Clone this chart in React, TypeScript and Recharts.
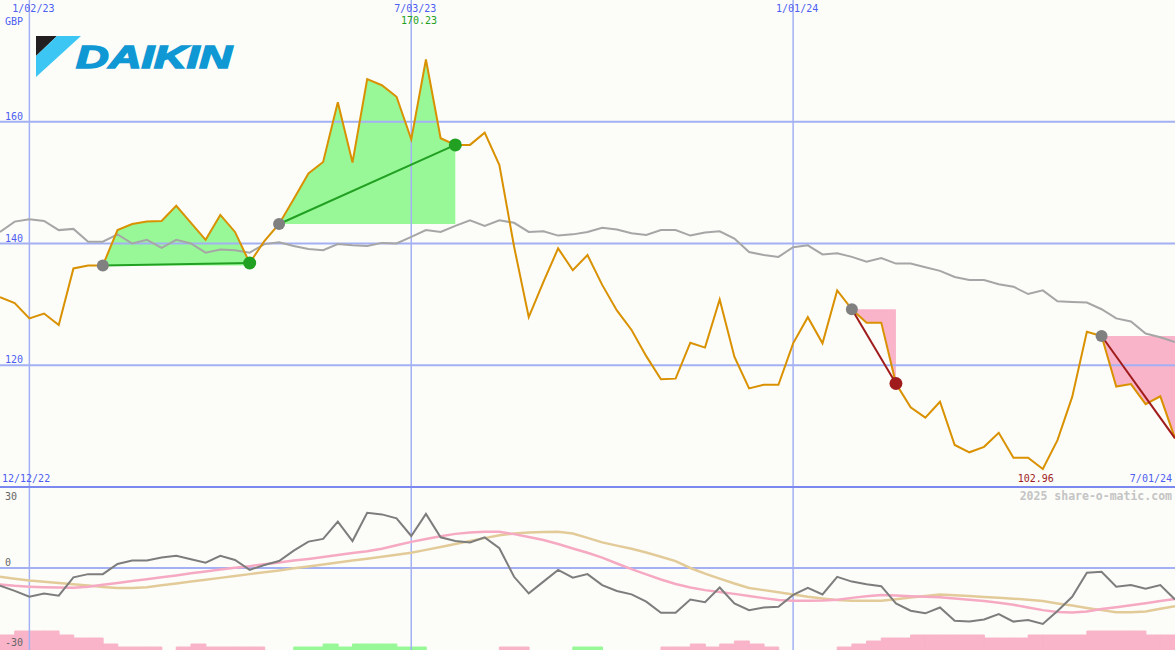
import React from 'react'
import {
  ComposedChart,
  BarChart,
  Bar,
  Cell,
  Line,
  Area,
  XAxis,
  YAxis,
  ReferenceLine,
} from 'recharts'

// weekly closes, GBP (week 0 = 19 Dec 2022)
const priceGbp = [
  131.2, 130.2, 127.7, 128.5, 126.6, 135.9, 136.4, 136.4, 142.2, 143.2,
  143.6, 143.7, 146.2, 143.4, 140.6, 144.7, 141.9, 136.8, 140.4, 143.2,
  147.3, 151.5, 153.4, 163.2, 153.3, 167.0, 166.0, 164.1, 157.1, 170.23,
  157.3, 156.2, 156.2, 158.2, 152.9, 139.5, 127.9, 133.7, 139.2, 135.6,
  138.1, 133.2, 129.0, 125.8, 121.5, 117.7, 117.8, 123.7, 122.9, 130.8,
  121.4, 116.2, 116.8, 116.8, 123.6, 127.9, 123.6, 132.3, 129.2, 127.0,
  127.0, 117.0, 113.1, 111.4, 114.0, 106.9, 105.7, 106.6, 108.9, 104.8,
  104.8, 102.96, 107.7, 114.8, 125.5, 124.8, 116.5, 116.9, 113.6, 114.9, 108.0,
]

const movingAverage = [
  141.9, 143.6, 144.0, 143.7, 142.2, 142.4, 140.3, 140.3, 141.5, 140.0,
  140.6, 139.3, 140.6, 140.0, 138.5, 139.0, 138.9, 138.5, 139.9, 140.2,
  139.6, 139.1, 138.9, 139.9, 139.7, 139.6, 140.1, 140.0, 141.1, 142.2,
  141.9, 142.9, 143.8, 142.9, 143.8, 143.4, 141.9, 142.0, 141.3, 141.5,
  141.9, 142.6, 142.3, 141.7, 141.4, 142.2, 142.2, 141.3, 141.8, 142.0,
  140.8, 138.6, 138.1, 137.8, 139.4, 139.7, 138.2, 138.4, 137.8, 137.0,
  137.6, 136.7, 136.7, 136.1, 135.5, 134.5, 134.0, 134.0, 133.3, 132.9,
  131.7, 132.3, 130.5, 130.4, 130.3, 129.2, 127.7, 127.2, 125.2, 124.6, 123.8,
]

const momentum = [
  -6.6, -8.6, -10.8, -9.6, -10.4, -3.5, -2.3, -2.3, 1.5, 2.8,
  2.8, 3.9, 4.6, 3.3, 2.0, 4.6, 3.0, -0.7, 1.1, 2.6,
  6.5, 9.9, 10.9, 17.4, 10.1, 20.7, 20.1, 18.6, 12.0, 20.3,
  11.5, 10.1, 9.6, 11.5, 7.4, -3.3, -9.5, -5.1, -0.7, -3.6,
  -2.3, -6.4, -8.6, -9.9, -12.6, -16.8, -16.8, -11.8, -12.8, -7.3,
  -13.3, -15.8, -14.8, -14.5, -10.1, -7.4, -9.9, -3.3, -5.1, -6.1,
  -6.8, -13.3, -16.0, -17.0, -14.8, -19.8, -20.1, -19.3, -17.3, -20.1,
  -19.5, -21.0, -16.1, -10.8, -1.8, -1.4, -7.0, -6.4, -7.8, -6.4, -11.8,
]

const momentumFast = [
  -6.2, -6.7, -7.0, -7.2, -7.3, -7.4, -7.0, -6.3, -5.6, -4.9,
  -4.2, -3.5, -2.8, -2.0, -1.3, -0.55, 0.1, 0.7, 1.4, 2.1,
  2.8, 3.4, 4.1, 4.9, 5.6, 6.3, 7.2, 8.5, 9.8, 10.9,
  11.9, 12.8, 13.3, 13.6, 13.6, 12.7, 11.6, 10.5, 9.0, 7.3,
  5.7, 3.9, 1.7, -0.4, -2.4, -4.3, -6.0, -7.3, -8.3, -9.0,
  -9.7, -10.5, -11.3, -12.0, -12.25, -12.25, -12.2, -11.9, -11.2, -10.6,
  -10.1, -10.3, -10.6, -10.8, -11.0, -11.4, -11.9, -12.4, -13.0, -13.8,
  -14.8, -15.8, -16.5, -16.7, -16.3, -15.4, -14.7, -14.0, -13.2, -12.4, -11.6,
]

const momentumSlow = [
  -3.25, -4.0, -4.7, -5.2, -5.6, -6.1, -6.6, -7.1, -7.5, -7.5,
  -7.2, -6.5, -5.8, -5.1, -4.4, -3.7, -3.0, -2.3, -1.6, -0.9,
  -0.1, 0.6, 1.3, 2.1, 2.8, 3.5, 4.2, 5.0, 5.75, 6.8,
  7.9, 9.0, 10.1, 11.2, 12.3, 12.9, 13.3, 13.5, 13.6, 12.9,
  11.3, 9.6, 8.4, 7.2, 5.8, 4.2, 2.6, 0.0, -2.1, -4.0,
  -5.8, -7.5, -8.3, -9.1, -9.9, -10.8, -11.4, -12.0, -12.25, -12.25,
  -12.25, -11.7, -11.1, -10.5, -9.9, -10.2, -10.5, -10.9, -11.2, -11.5,
  -11.9, -12.4, -13.3, -14.1, -15.0, -15.8, -16.6, -16.6, -16.3, -15.3, -14.3,
]

// one bar per week interval, + green / - pink
const pressure = [
  -15, -19, -19, -19, -15, -12, -12, -6, -3, -3,
  -3, 0, -3, -6, -3, -3, -3, -3, 0, 0,
  3, 3, 6, 3, 6, 6, 6, 3, 3, 0,
  0, 0, 0, 0, -3, -3, 0, 0, 0, 3,
  3, 0, 0, 0, 0, -3, -3, -6, -3, -6,
  -9, -6, -3, 0, 0, 0, 0, -3, -6, -9,
  -12, -12, -15, -15, -15, -15, -15, -12, -12, -12,
  -15, -15, -15, -15, -19, -19, -19, -19, -15, -15,
]

const gridWeeks = [2, 28, 54]
const gridDates = ['1/02/23', '7/03/23', '1/01/24']
const rangeDates = ['12/12/22', '7/01/24']
const priceTicks = [120, 140, 160]
const momentumTicks = [-30, 0, 30]

const tradeEntry = [7, 19, 58, 75]
const tradeExit = [17, 31, 61, 80]
const tradeWon = [true, true, false, false]
const tradeClosed = [true, true, true, false]

const W = 1175
const TOP_H = 487
const BOTTOM_H = 162
const MONO = '"DejaVu Sans Mono", monospace'
const BLUE_TEXT = '#4d5ef0'
const GRID = '#a3b0f4'
const GREEN_FILL = '#98f898'
const GREEN = '#22a022'
const PINK_FILL = '#f9b4c9'
const RED = '#a01c1c'

const hiVal = Math.max(...priceGbp)
const loVal = Math.min(...priceGbp)

const rows = priceGbp.map((price, w) => {
  const row: Record<string, any> = {
    w,
    price,
    ma: movingAverage[w],
    mom: momentum[w],
    fast: momentumFast[w],
    slow: momentumSlow[w],
    entryDot: null,
    winDot: null,
    lossDot: null,
  }
  tradeEntry.forEach((start, k) => {
    const end = tradeExit[k]
    const base = priceGbp[start]
    row[`zone${k}`] =
      w >= start && w <= end ? [Math.min(base, price), Math.max(base, price)] : null
    row[`trade${k}`] = w === start || w === end ? price : null
    if (w === start) row.entryDot = price
    if (w === end && tradeClosed[k]) row[tradeWon[k] ? 'winDot' : 'lossDot'] = price
  })
  return row
})

const barRows = pressure.map((v, i) => ({ i, h: Math.abs(v), up: v > 0 }))

const PriceTick = ({ y, payload }: any) => (
  <text x={5} y={y - 2} fill={BLUE_TEXT} fontSize={10} fontFamily={MONO}>
    {payload.value}
  </text>
)

const DateTick = ({ x, payload }: any) => (
  <text x={x + 4} y={12} textAnchor="middle" fill={BLUE_TEXT} fontSize={10} fontFamily={MONO}>
    {gridDates[gridWeeks.indexOf(payload.value)]}
  </text>
)

const MomentumTick = ({ y, payload }: any) => (
  <text
    x={5}
    y={payload.value === 30 ? y + 12 : y - 2}
    fill="#666"
    fontSize={10}
    fontFamily={MONO}
  >
    {payload.value}
  </text>
)

const extremeLabel = (props: any) => {
  const { value } = props
  const x = props.x ?? props.viewBox?.x
  if (value === hiVal) {
    return (
      <text x={x - 7} y={24} textAnchor="middle" fill={GREEN} fontSize={10} fontFamily={MONO}>
        {value.toFixed(2)}
      </text>
    )
  }
  if (value === loVal) {
    return (
      <text x={x - 7} y={482} textAnchor="middle" fill={RED} fontSize={10} fontFamily={MONO}>
        {value.toFixed(2)}
      </text>
    )
  }
  return <g />
}

function DaikinLogo() {
  return (
    <svg width={240} height={80} style={{ position: 'absolute', left: 0, top: 0 }}>
      <polygon points="36,36 57,36 36,56" fill="#231f20" />
      <polygon points="57,36 81,36 36,77 36,56" fill="#3cc6f4" />
      <text
        x={76}
        y={68}
        fontFamily="'Liberation Sans', Arial, sans-serif"
        fontWeight="bold"
        fontStyle="italic"
        fontSize={32}
        fill="#0f98d3"
        stroke="#0f98d3"
        strokeWidth={1.6}
        textLength={156}
        lengthAdjust="spacingAndGlyphs"
      >
        DAIKIN
      </text>
    </svg>
  )
}

function PriceChart() {
  return (
    <ComposedChart width={W} height={TOP_H} data={rows} margin={{ top: 0, right: 0, bottom: 0, left: 0 }}>
      <XAxis
        dataKey="w"
        type="number"
        domain={[0, 80]}
        ticks={gridWeeks}
        interval={0}
        orientation="top"
        mirror
        height={30}
        axisLine={false}
        tickLine={false}
        tick={DateTick}
      />
      <YAxis
        type="number"
        domain={[100, 180]}
        ticks={priceTicks}
        interval={0}
        mirror
        width={40}
        axisLine={false}
        tickLine={false}
        tick={PriceTick}
      />
      {priceTicks.map((v) => (
        <ReferenceLine key={v} y={v} stroke={GRID} strokeWidth={2} />
      ))}
      {gridWeeks.map((w) => (
        <ReferenceLine key={w} x={w} stroke={GRID} strokeWidth={1.5} />
      ))}
      {tradeEntry.map((_, k) => (
        <Area
          key={k}
          type="linear"
          dataKey={`zone${k}`}
          stroke="none"
          fill={tradeWon[k] ? GREEN_FILL : PINK_FILL}
          fillOpacity={1}
          dot={false}
          activeDot={false}
          isAnimationActive={false}
        />
      ))}
      <Line type="linear" dataKey="ma" stroke="#a6a6a6" strokeWidth={2} dot={false} activeDot={false} isAnimationActive={false} />
      <Line dataKey="entryDot" stroke="none" dot={{ r: 6, fill: '#808080', stroke: 'none' }} activeDot={false} isAnimationActive={false} />
      <Line dataKey="winDot" stroke="none" dot={{ r: 6.5, fill: GREEN, stroke: 'none' }} activeDot={false} isAnimationActive={false} />
      <Line dataKey="lossDot" stroke="none" dot={{ r: 6.5, fill: RED, stroke: 'none' }} activeDot={false} isAnimationActive={false} />
      <Line
        type="linear"
        dataKey="price"
        stroke="#d99100"
        strokeWidth={2}
        dot={false}
        activeDot={false}
        label={extremeLabel}
        isAnimationActive={false}
      />
      {tradeEntry.map((_, k) => (
        <Line
          key={k}
          type="linear"
          dataKey={`trade${k}`}
          stroke={tradeWon[k] ? GREEN : RED}
          strokeWidth={2}
          connectNulls
          dot={false}
          activeDot={false}
          isAnimationActive={false}
        />
      ))}
    </ComposedChart>
  )
}

function MomentumChart() {
  return (
    <ComposedChart width={W} height={BOTTOM_H} data={rows} margin={{ top: 0, right: 0, bottom: 0, left: 0 }}>
      <XAxis dataKey="w" type="number" domain={[0, 80]} hide />
      <YAxis
        type="number"
        domain={[-30.75, 30]}
        ticks={momentumTicks}
        interval={0}
        mirror
        width={40}
        axisLine={false}
        tickLine={false}
        tick={MomentumTick}
      />
      <ReferenceLine y={0} stroke={GRID} strokeWidth={2} />
      {gridWeeks.map((w) => (
        <ReferenceLine key={w} x={w} stroke={GRID} strokeWidth={1.5} />
      ))}
      <Line type="linear" dataKey="slow" stroke="#e3cb99" strokeWidth={2.5} dot={false} activeDot={false} isAnimationActive={false} />
      <Line type="linear" dataKey="fast" stroke="#f6a9c3" strokeWidth={2.5} dot={false} activeDot={false} isAnimationActive={false} />
      <Line type="linear" dataKey="mom" stroke="#7d7d7d" strokeWidth={2} dot={false} activeDot={false} isAnimationActive={false} />
    </ComposedChart>
  )
}

function PressureBars() {
  return (
    <BarChart
      width={W}
      height={BOTTOM_H}
      data={barRows}
      margin={{ top: 0, right: 0, bottom: 0, left: 0 }}
      barCategoryGap={0}
    >
      <XAxis dataKey="i" hide />
      <YAxis domain={[0, BOTTOM_H]} hide />
      <Bar dataKey="h" isAnimationActive={false}>
        {barRows.map((b) => (
          <Cell
            key={b.i}
            fill={b.up ? GREEN_FILL : PINK_FILL}
            stroke={b.up ? GREEN_FILL : PINK_FILL}
            strokeWidth={1}
          />
        ))}
      </Bar>
    </BarChart>
  )
}

export default function App() {
  return (
    <div
      style={{
        position: 'absolute',
        left: 0,
        top: 0,
        width: W,
        height: 650,
        background: '#fcfdf9',
        overflow: 'hidden',
      }}
    >
      <div style={{ position: 'absolute', left: 0, top: 0 }}>
        <PriceChart />
      </div>
      <div style={{ position: 'absolute', left: 0, top: 488 }}>
        <PressureBars />
      </div>
      <div style={{ position: 'absolute', left: 0, top: 488 }}>
        <MomentumChart />
      </div>
      <DaikinLogo />
      <svg width={W} height={650} style={{ position: 'absolute', left: 0, top: 0, pointerEvents: 'none' }}>
        <rect x={0} y={486} width={W} height={2} fill="#7b88f0" />
        <text x={5} y={25} fill={BLUE_TEXT} fontSize={10} fontFamily={MONO}>
          GBP
        </text>
        <text x={2} y={482} fill={BLUE_TEXT} fontSize={10} fontFamily={MONO}>
          {rangeDates[0]}
        </text>
        <text x={1172} y={482} textAnchor="end" fill={BLUE_TEXT} fontSize={10} fontFamily={MONO}>
          {rangeDates[1]}
        </text>
        <text
          x={1172}
          y={500}
          textAnchor="end"
          fill="#c4c4c4"
          fontSize={11.5}
          fontWeight="bold"
          fontFamily={MONO}
        >
          2025 share-o-matic.com
        </text>
      </svg>
    </div>
  )
}
